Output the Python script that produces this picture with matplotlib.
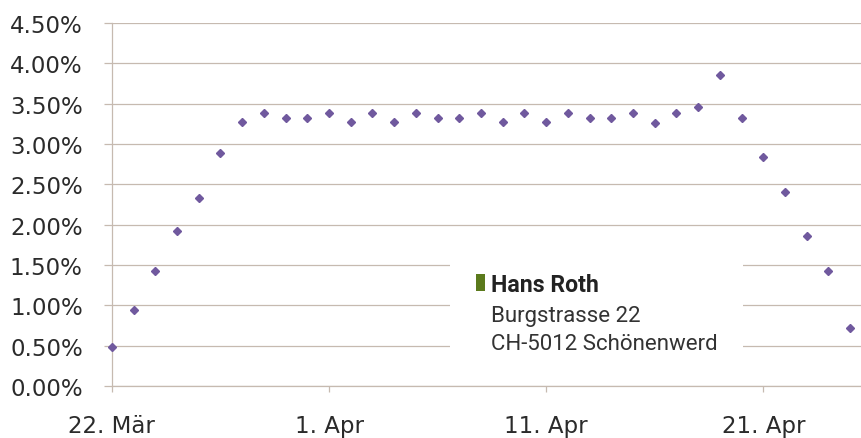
import numpy as np
import pandas as pd
import matplotlib
matplotlib.use('Agg')
import matplotlib.pyplot as plt
from matplotlib.patches import Rectangle
from matplotlib.ticker import FuncFormatter

plt.rcParams['font.family'] = ['DejaVu Sans']

# daily values, 22 Mar .. 25 Apr
dates = pd.date_range('2011-03-22', '2011-04-25', freq='D')
values = [0.48, 0.94, 1.42, 1.92, 2.33, 2.89, 3.27, 3.38, 3.32, 3.32,
          3.38, 3.27, 3.38, 3.27, 3.38, 3.32, 3.32, 3.38, 3.27, 3.38,
          3.27, 3.38, 3.32, 3.32, 3.38, 3.26, 3.38, 3.46, 3.86, 3.32,
          2.84, 2.40, 1.86, 1.42, 0.72]
values = np.array(values) / 100.0

tick_dates = pd.to_datetime(['2011-03-22', '2011-04-01', '2011-04-11', '2011-04-21'])
tick_labels = ['22. Mär', '1. Apr', '11. Apr', '21. Apr']
y_ticks = np.arange(0, 0.0451, 0.005)

grid_col = '#c6bab0'
text_col = '#2b2b2b'
purple = '#70599e'

fig = plt.figure(figsize=(8.61, 4.39), dpi=100)
ax = fig.add_axes([0.130, 0.1185, 0.870, 0.8268])

ax.plot(dates, values, linestyle='none', marker='D', markersize=3.8,
        color=purple, zorder=3, clip_on=False)

ax.set_ylim(0, 0.045)
ax.set_xlim(dates[0], dates[-1] + pd.Timedelta(hours=12))
ax.set_yticks(y_ticks)
ax.yaxis.set_major_formatter(FuncFormatter(lambda v, p: '%.2f%%' % (v * 100)))
ax.set_xticks(tick_dates)
ax.set_xticklabels(tick_labels)

ax.set_axisbelow(True)
ax.grid(axis='y', color=grid_col, linewidth=0.9)
for s in ['top', 'right']:
    ax.spines[s].set_visible(False)
for s in ['left', 'bottom']:
    ax.spines[s].set_color(grid_col)
    ax.spines[s].set_linewidth(0.9)

ax.tick_params(axis='y', length=6, width=0.9, color=grid_col, pad=15,
               labelsize=16.5, labelcolor=text_col)
ax.tick_params(axis='x', length=4, width=0.9, color=grid_col, pad=16,
               labelsize=16.5, labelcolor=text_col)
for lab in ax.get_xticklabels() + ax.get_yticklabels():
    lab.set_family('DejaVu Sans')

# address block, covers the gridlines behind it
ax.add_patch(Rectangle((0.5226, 0.180), 0.3403, 0.2847, transform=fig.transFigure,
                       facecolor='white', edgecolor='none', zorder=1, clip_on=False))
ax.add_patch(Rectangle((0.5528, 0.3349), 0.0105, 0.0390, transform=fig.transFigure,
                       facecolor='#5b7a1c', edgecolor='none', zorder=2, clip_on=False))

fig.text(0.5703, 0.3349, 'Hans Roth', family='Roboto', fontweight='bold',
         fontsize=16.7, color='#222222', va='baseline')
fig.text(0.5703, 0.2672, 'Burgstrasse 22', family='Roboto',
         fontsize=16, color='#333333', va='baseline')
fig.text(0.5703, 0.2027, 'CH-5012 Schönenwerd', family='Roboto',
         fontsize=16, color='#333333', va='baseline')

plt.savefig('out.png', dpi=100)
